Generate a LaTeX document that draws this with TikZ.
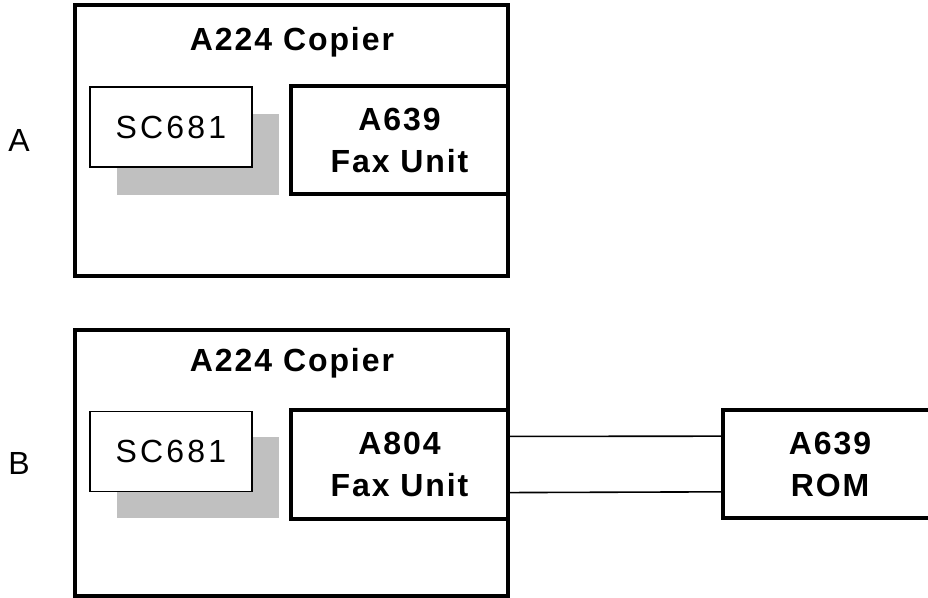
\documentclass[tikz,border=0pt]{standalone}
\usepackage{fontspec}
\setmainfont{Liberation Sans}
\usepackage{xcolor}
\usepackage{tikz}
\definecolor{shadowgray}{HTML}{C0C0C0}
\usetikzlibrary{positioning, calc}

\newfontfamily\spacedbold[LetterSpace=6]{Liberation Sans Bold}
\newfontfamily\spaced[LetterSpace=10]{Liberation Sans}

\tikzset{
    copier/.style={draw, line width=2.5pt, minimum width=433*0.75pt, inner sep=0pt},
    unitbox/.style={draw, line width=2.5pt, fill=white, minimum width=217*0.75pt, minimum height=108*0.75pt, align=center, inner sep=0pt, font=\spacedbold\fontsize{24}{31.5}\selectfont},
    scbox/.style={draw, line width=0.8pt, fill=white, minimum width=162*0.75pt, minimum height=80*0.75pt, inner sep=0pt, font=\spaced\fontsize{24}{29}\selectfont},
    shadowbox/.style={fill=shadowgray, minimum width=162*0.75pt, minimum height=81*0.75pt, inner sep=0pt},
    title/.style={font=\spacedbold\fontsize{24}{29}\selectfont, inner sep=0pt},
    caselabel/.style={font=\fontsize{24}{29}\selectfont, inner sep=0pt},
    link/.style={line width=1.2pt}
}

\begin{document}
\begin{tikzpicture}[x=0.75pt, y=-0.75pt]
    \useasboundingbox (0,0) rectangle (928,598);

    % case A
    \node[caselabel] (labA) at (19,140) {A};
    \node[copier, minimum height=271*0.75pt] (copA) at (291.5,140.5) {};
    \node[title] (titleA) at (292,42) {A224 Copier};
    \node[shadowbox] (shadA) at (198,154.5) {};
    \node[scbox] (scA) at (171,127) {SC681};
    \node[unitbox] (faxA) at (399.5,140) {A639\\Fax Unit};

    % case B
    \node[caselabel] (labB) at (19,463) {B};
    \node[copier, minimum height=266*0.75pt] (copB) at (291.5,463) {};
    \node[title] (titleB) at (292,363) {A224 Copier};
    \node[shadowbox] (shadB) at (198,477.5) {};
    \node[scbox] (scB) at (171,451.5) {SC681};
    \node[unitbox, minimum height=109*0.75pt] (faxB) at (399.5,464.5) {A804\\Fax Unit};
    \node[unitbox, minimum width=214*0.75pt] (rom) at (830,464) {A639\\ROM};

    \draw[link] ($(faxB.north east)!.25!(faxB.south east)$) -- ($(rom.north west)!.25!(rom.south west)$);
    \draw[link] ($(faxB.north east)!.75!(faxB.south east)$) -- ($(rom.north west)!.75!(rom.south west)$);
\end{tikzpicture}
\end{document}
